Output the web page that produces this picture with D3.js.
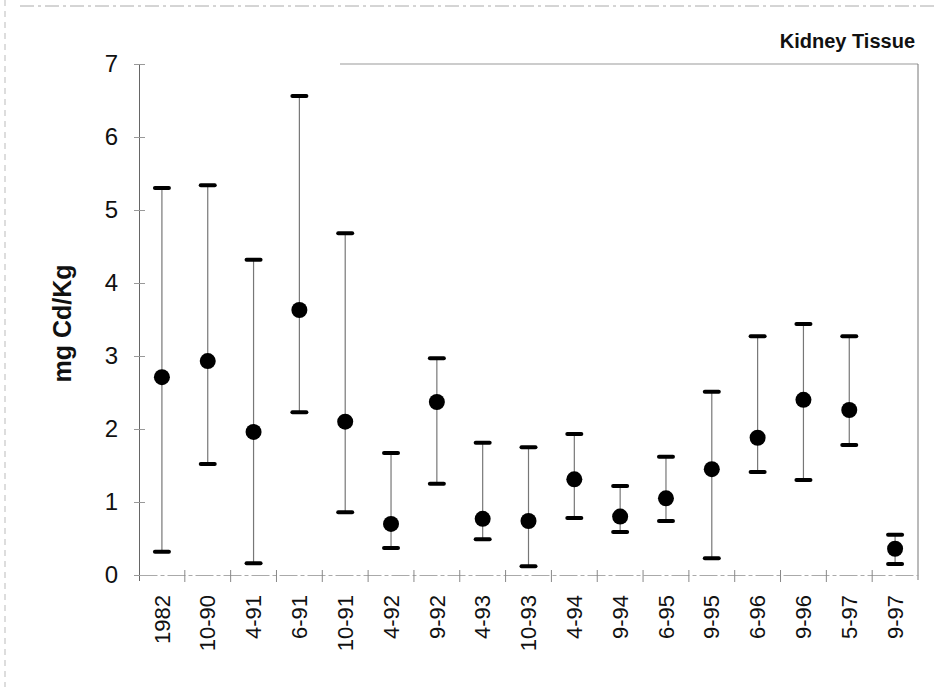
<!DOCTYPE html>
<html>
<head>
<meta charset="utf-8">
<script src="https://cdn.jsdelivr.net/npm/d3@7"></script>
<style>
  body { margin: 0; background: #fff; }
  svg text { font-family: "Liberation Sans", Arial, sans-serif; }
</style>
</head>
<body>
<div id="chart"></div>
<script>
const W = 936, H = 687;

// data
const dates = ["1982", "10-90", "4-91", "6-91", "10-91", "4-92", "9-92", "4-93", "10-93",
  "4-94", "9-94", "6-95", "9-95", "6-96", "9-96", "5-97", "9-97"];
const means = [2.71, 2.93, 1.96, 3.63, 2.10, 0.70, 2.37, 0.77, 0.74, 1.31, 0.80, 1.05, 1.45, 1.88, 2.40, 2.26, 0.36];
const highs = [5.30, 5.34, 4.32, 6.56, 4.68, 1.67, 2.97, 1.81, 1.75, 1.93, 1.22, 1.62, 2.51, 3.27, 3.44, 3.27, 0.55];
const lows = [0.32, 1.52, 0.16, 2.23, 0.86, 0.37, 1.25, 0.49, 0.12, 0.78, 0.59, 0.74, 0.23, 1.41, 1.30, 1.78, 0.15];
const yTicks = [0, 1, 2, 3, 4, 5, 6, 7];

const rows = dates.map((d, i) => ({ date: d, mean: means[i], hi: highs[i], lo: lows[i] }));

const plot = { left: 139, right: 918, top: 64, bottom: 575 };

const x = d3.scaleBand()
  .domain(dates)
  .range([plot.left, plot.right]);

const y = d3.scaleLinear()
  .domain([0, 7])
  .range([plot.bottom, plot.top]);

const svg = d3.select("#chart")
  .append("svg")
  .attr("width", W)
  .attr("height", H);

// scan border bits
svg.append("line")
  .attr("x1", 20).attr("x2", 936).attr("y1", 6).attr("y2", 6)
  .attr("stroke", "#aaa").attr("stroke-width", 1).attr("stroke-dasharray", "14 4 3 4");
svg.append("line")
  .attr("x1", 5).attr("x2", 5).attr("y1", 0).attr("y2", H)
  .attr("stroke", "#bbb").attr("stroke-width", 1).attr("stroke-dasharray", "6 5");

// frame top and right
svg.append("line")
  .attr("x1", 340).attr("x2", plot.right).attr("y1", plot.top).attr("y2", plot.top)
  .attr("stroke", "#999").attr("stroke-width", 1);
svg.append("line")
  .attr("x1", plot.right).attr("x2", plot.right).attr("y1", plot.top).attr("y2", plot.bottom + 5)
  .attr("stroke", "#777").attr("stroke-width", 1);

// y axis
const yAxis = d3.axisLeft(y)
  .tickValues(yTicks)
  .tickFormat(d3.format("d"))
  .tickSizeInner(5)
  .tickSizeOuter(0)
  .tickPadding(16);

const gy = svg.append("g")
  .attr("transform", `translate(${plot.left},0)`)
  .call(yAxis);
gy.select(".domain").attr("stroke", "#666").attr("d", `M0.5,${plot.top}V${plot.bottom + 6}`);
gy.selectAll(".tick line").attr("stroke", "#999").attr("x2", 6).attr("x1", -5);
gy.selectAll(".tick text")
  .style("font-size", "24px")
  .attr("fill", "#111");

// x axis
const xAxis = d3.axisBottom(x)
  .tickSize(0)
  .tickPadding(0);

const gx = svg.append("g")
  .attr("transform", `translate(0,${plot.bottom})`)
  .call(xAxis);
gx.select(".domain").attr("stroke", "#aaa").attr("stroke-dasharray", "18 3 4 3");
gx.selectAll(".tick text")
  .style("font-size", "22px")
  .attr("fill", "#111")
  .attr("text-anchor", "end")
  .attr("dy", "0.35em")
  .attr("transform", "translate(0,20) rotate(-90)")
  .attr("x", 0)
  .attr("y", 0);

// category separators
svg.append("g")
  .selectAll("line")
  .data(dates.slice(1))
  .join("line")
  .attr("x1", d => x(d)).attr("x2", d => x(d))
  .attr("y1", plot.bottom - 5).attr("y2", plot.bottom + 7)
  .attr("stroke", "#888").attr("stroke-width", 1);

// error bars
const bars = svg.append("g")
  .selectAll("g")
  .data(rows)
  .join("g")
  .attr("transform", d => `translate(${x(d.date) + x.bandwidth() / 2},0)`);

bars.append("line")
  .attr("y1", d => y(d.hi)).attr("y2", d => y(d.lo))
  .attr("stroke", "#777").attr("stroke-width", 1.2);

bars.selectAll(".cap")
  .data(d => [d.hi, d.lo])
  .join("line")
  .attr("class", "cap")
  .attr("x1", -7).attr("x2", 7)
  .attr("y1", v => y(v)).attr("y2", v => y(v))
  .attr("stroke", "#000").attr("stroke-width", 4).attr("stroke-linecap", "round");

bars.append("circle")
  .attr("cy", d => y(d.mean))
  .attr("r", 8)
  .attr("fill", "#000");

// y axis title
svg.append("text")
  .attr("transform", `translate(71,${(plot.top + plot.bottom) / 2 + 4}) rotate(-90)`)
  .attr("text-anchor", "middle")
  .style("font-size", "25px")
  .style("font-weight", "bold")
  .attr("fill", "#111")
  .text("mg Cd/Kg");

// title
svg.append("text")
  .attr("x", 915)
  .attr("y", 48)
  .attr("text-anchor", "end")
  .style("font-size", "20px")
  .style("font-weight", "bold")
  .attr("fill", "#111")
  .text("Kidney Tissue");
</script>
</body>
</html>
